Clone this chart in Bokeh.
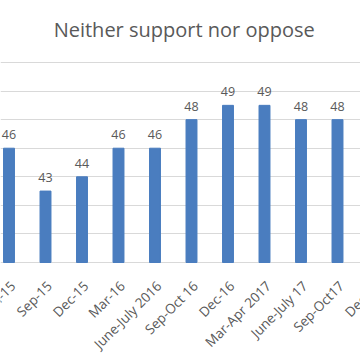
from bokeh.plotting import figure
from bokeh.models import ColumnDataSource, FixedTicker, Range1d, Label
from bokeh.core.properties import value
from bokeh.embed import file_html
from bokeh.resources import INLINE
import math

title_text = "Neither support nor oppose"
categories = ["Jun-15", "Sep-15", "Dec-15", "Mar-16", "June-July 2016", "Sep-Oct 16",
              "Dec-16", "Mar-Apr 2017", "June-July 17", "Sep-Oct17", "Dec-17"]
values = [46, 43, 44, 46, 46, 48, 49, 49, 48, 48, 47]
y_ticks = [38, 40, 42, 44, 46, 48, 50, 52]
y_base = 38

FONT = "Open Sans"
TXT = "#595959"

xs = list(range(len(categories)))
src = ColumnDataSource(dict(x=xs, top=values, lbl=[str(v) for v in values],
                            cat=categories, base=[y_base] * len(xs)))

p = figure(width=360, height=360, output_backend="svg", toolbar_location=None,
           x_range=Range1d(-0.233, 9.63), y_range=Range1d(31.14, 56.34),
           min_border_left=0, min_border_right=0, min_border_top=0, min_border_bottom=0)
p.outline_line_color = None
p.background_fill_color = "white"
p.border_fill_color = "white"
p.xaxis.visible = False
p.yaxis.visible = False

p.ygrid.ticker = FixedTicker(ticks=y_ticks)
p.ygrid.grid_line_color = "#d9d9d9"
p.xgrid.grid_line_color = None

p.vbar(x="x", top="top", bottom=y_base, width=0.30, source=src, color="#4a7dbf")
p.text(x="x", y="top", text="lbl", source=src, text_align="center", text_baseline="bottom",
       y_offset=-9, text_font=value(FONT), text_font_size="12.5px", text_color=TXT)

# category labels (rotated 45 degrees, ending at the tick)
p.text(x="x", y="base", text="cat", source=src, angle=math.pi / 4,
       text_align="right", text_baseline="middle", x_offset=4, y_offset=21,
       text_font=value(FONT), text_font_size="13.5px", text_color=TXT)

p.add_layout(Label(x=4.8, y=54.3, text=title_text, text_align="center", text_baseline="middle",
                   text_font=FONT, text_font_size="20px", text_color=TXT))

open("out.html", "w").write(file_html(p, INLINE))
